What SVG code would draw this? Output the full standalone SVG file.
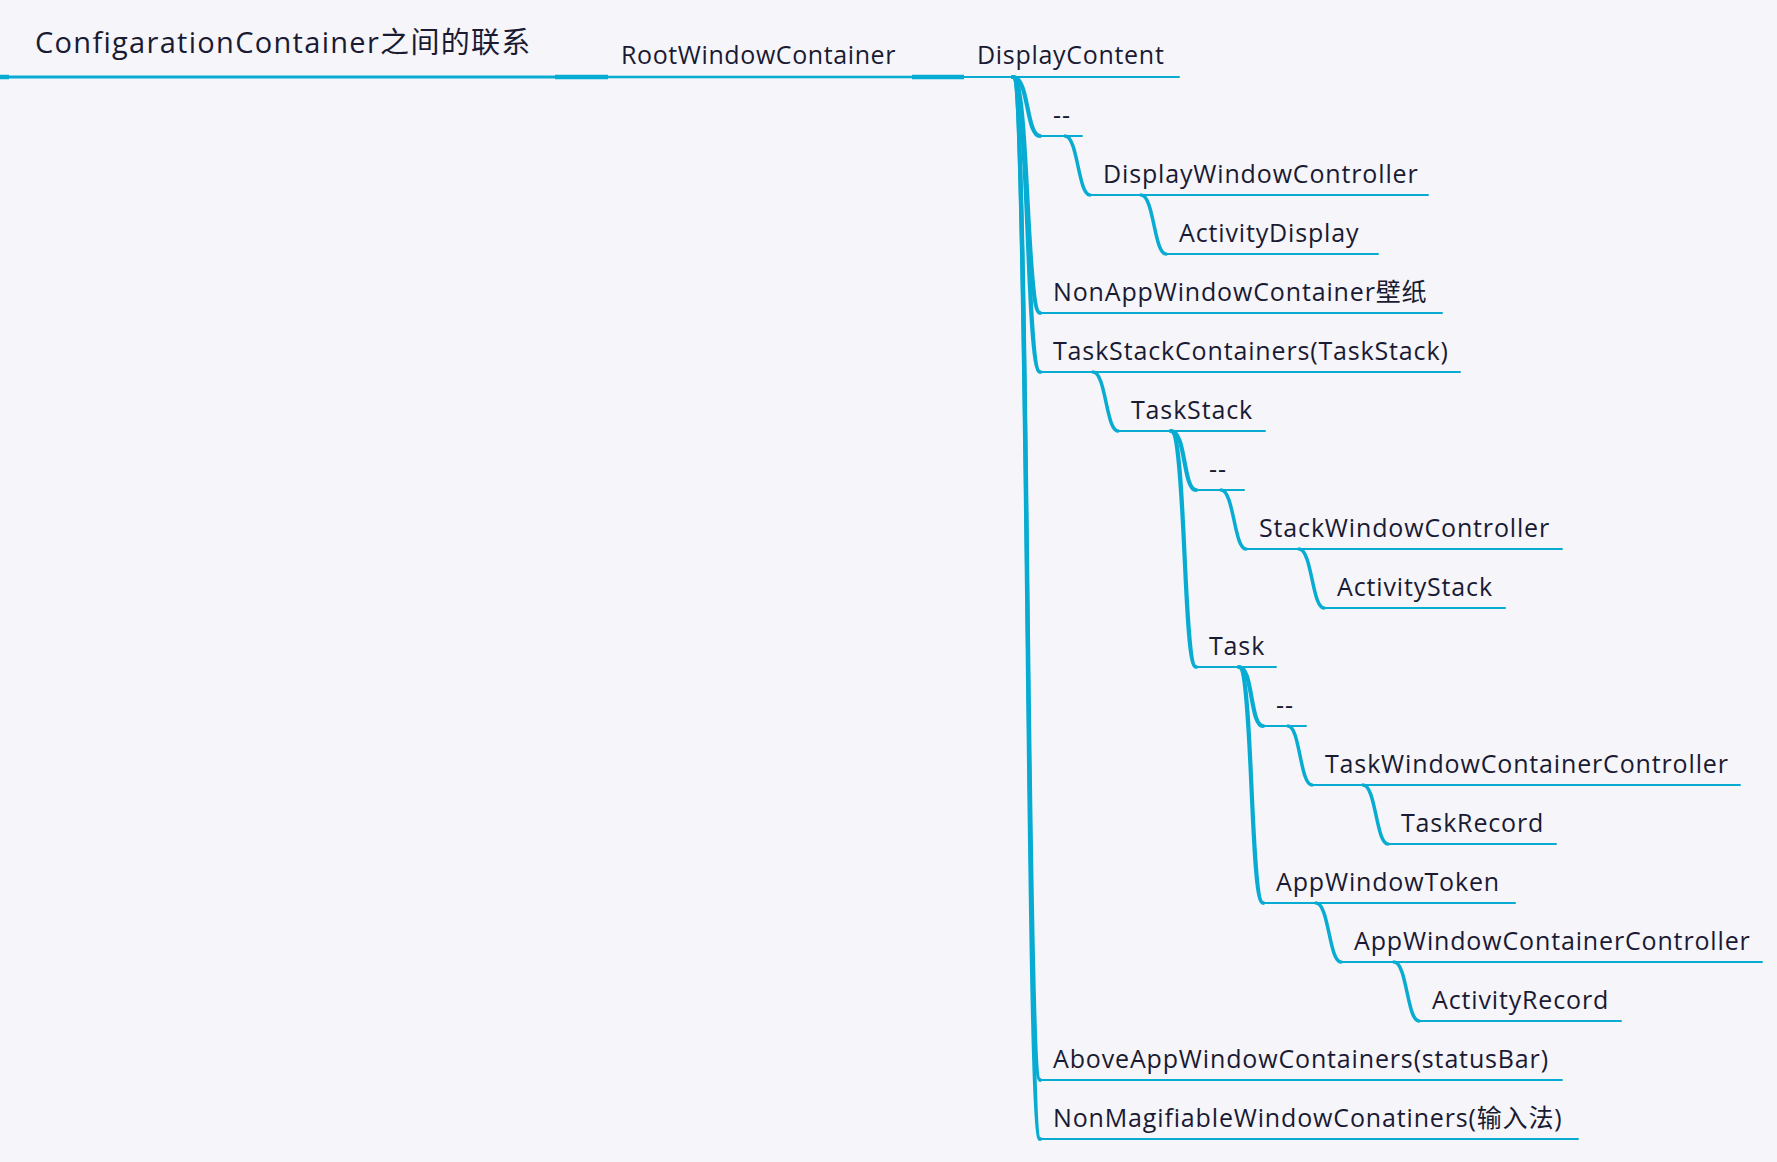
<svg xmlns="http://www.w3.org/2000/svg" width="1777" height="1162" viewBox="0 0 1777 1162">
<style>
.t{font-family:'Open Sans','Noto Sans','Noto Sans CJK SC',sans-serif;font-size:25px;fill:#1A1A33;letter-spacing:0.85px}
.title{font-size:29px;letter-spacing:1.3px}
.u{stroke:#08ACD2;stroke-width:2;fill:none;stroke-linecap:round}
.c{stroke:#08ACD2;stroke-width:3.5;fill:none;stroke-linecap:round}
.k{stroke-width:4.2}
.s{stroke:#08ACD2;stroke-width:4.5;fill:none}
</style>
<rect width="1777" height="1162" fill="#F5F5FA"/>
<g id="connectors">
<path class="s" d="M0,77 L9,77"/>
<path class="s" d="M555,77 L608,77"/>
<path class="s" d="M912,77 L964,77"/>
<path class="c k" d="M1013,77 C1029,77 1026,136 1040,136"/>
<path class="c k" d="M1013,77 C1029,77 1026,313 1040,313"/>
<path class="c k" d="M1013,77 C1029,77 1026,372 1040,372"/>
<path class="c k" d="M1013,77 C1029,77 1026,1080 1040,1080"/>
<path class="c k" d="M1013,77 C1029,77 1026,1139 1040,1139"/>
<path class="c" d="M1065,136 C1078,136 1078,195 1090,195"/>
<path class="c" d="M1141,195 C1154,195 1154,254 1166,254"/>
<path class="c" d="M1093,372 C1106,372 1106,431 1118,431"/>
<path class="c k" d="M1171,431 C1186,431 1183,490 1196,490"/>
<path class="c k" d="M1171,431 C1186,431 1183,667 1196,667"/>
<path class="c" d="M1221,490 C1234,490 1234,549 1246,549"/>
<path class="c" d="M1299,549 C1312,549 1312,608 1324,608"/>
<path class="c k" d="M1239,667 C1253,667 1250,726 1263,726"/>
<path class="c k" d="M1239,667 C1253,667 1250,903 1263,903"/>
<path class="c" d="M1288,726 C1300,726 1300,785 1312,785"/>
<path class="c" d="M1363,785 C1376,785 1376,844 1388,844"/>
<path class="c" d="M1316,903 C1329,903 1329,962 1341,962"/>
<path class="c" d="M1394,962 C1407,962 1407,1021 1419,1021"/>
</g>
<g id="n-title"><path class="u" style="stroke-width:3" d="M0,77 L555,77"/><text class="t title" x="35" y="53">ConfigarationContainer之间的联系</text></g>
<g id="n-rootwindowcontainer"><path class="u" style="stroke-width:2.5" d="M608,77 L912,77"/><text class="t" x="621" y="64" style="letter-spacing:0.6px">RootWindowContainer</text></g>
<g id="n-displaycontent"><path class="u" d="M964,77 L1179,77"/><text class="t" x="977" y="64" style="letter-spacing:0.7px">DisplayContent</text></g>
<g id="n-dash1"><path class="u" d="M1040,136 L1082,136"/><text class="t" x="1053" y="124">--</text></g>
<g id="n-displaywindowcontroller"><path class="u" d="M1090,195 L1428,195"/><text class="t" x="1103" y="183">DisplayWindowController</text></g>
<g id="n-activitydisplay"><path class="u" d="M1166,254 L1378,254"/><text class="t" x="1179" y="242">ActivityDisplay</text></g>
<g id="n-nonappwindowcontainer"><path class="u" d="M1040,313 L1442,313"/><text class="t" x="1053" y="301">NonAppWindowContainer壁纸</text></g>
<g id="n-taskstackcontainers"><path class="u" d="M1040,372 L1460,372"/><text class="t" x="1053" y="360">TaskStackContainers(TaskStack)</text></g>
<g id="n-taskstack"><path class="u" d="M1118,431 L1265,431"/><text class="t" x="1131" y="419">TaskStack</text></g>
<g id="n-dash2"><path class="u" d="M1196,490 L1244,490"/><text class="t" x="1209" y="478">--</text></g>
<g id="n-stackwindowcontroller"><path class="u" d="M1246,549 L1562,549"/><text class="t" x="1259" y="537">StackWindowController</text></g>
<g id="n-activitystack"><path class="u" d="M1324,608 L1505,608"/><text class="t" x="1337" y="596">ActivityStack</text></g>
<g id="n-task"><path class="u" d="M1196,667 L1276,667"/><text class="t" x="1209" y="655">Task</text></g>
<g id="n-dash3"><path class="u" d="M1263,726 L1306,726"/><text class="t" x="1276" y="714">--</text></g>
<g id="n-taskwindowcontainercontroller"><path class="u" d="M1312,785 L1740,785"/><text class="t" x="1325" y="773">TaskWindowContainerController</text></g>
<g id="n-taskrecord"><path class="u" d="M1388,844 L1556,844"/><text class="t" x="1401" y="832">TaskRecord</text></g>
<g id="n-appwindowtoken"><path class="u" d="M1263,903 L1515,903"/><text class="t" x="1276" y="891">AppWindowToken</text></g>
<g id="n-appwindowcontainercontroller"><path class="u" d="M1341,962 L1762,962"/><text class="t" x="1354" y="950">AppWindowContainerController</text></g>
<g id="n-activityrecord"><path class="u" d="M1419,1021 L1621,1021"/><text class="t" x="1432" y="1009">ActivityRecord</text></g>
<g id="n-aboveappwindowcontainers"><path class="u" d="M1040,1080 L1562,1080"/><text class="t" x="1053" y="1068">AboveAppWindowContainers(statusBar)</text></g>
<g id="n-nonmagifiablewindowconatiners"><path class="u" d="M1040,1139 L1578,1139"/><text class="t" x="1053" y="1127">NonMagifiableWindowConatiners(输入法)</text></g>
</svg>
